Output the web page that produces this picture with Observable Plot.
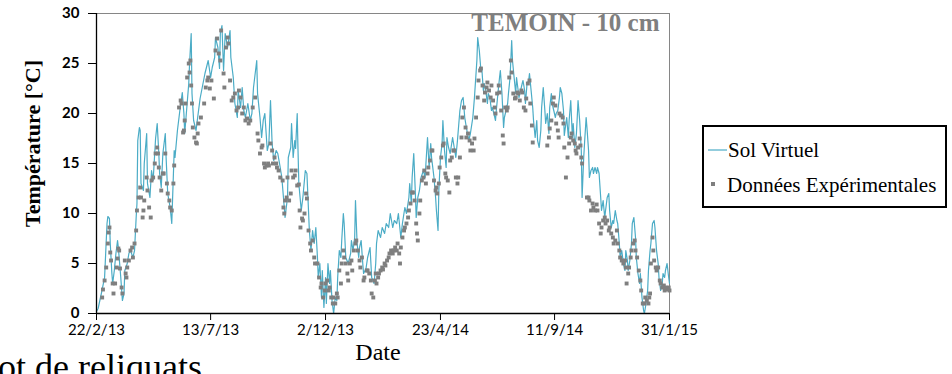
<!DOCTYPE html>
<html><head><meta charset="utf-8">
<script src="https://cdn.jsdelivr.net/npm/d3@7"></script>
<script src="https://cdn.jsdelivr.net/npm/@observablehq/plot@0.6"></script>
<style>
html,body{margin:0;padding:0;background:#fff;overflow:hidden;width:952px;height:374px;}
#wrap{position:relative;width:952px;height:374px;overflow:hidden;}
#chart svg{display:block;}
#overlay{position:absolute;left:0;top:0;}
#chart [aria-label="y-axis tick label"]{font-weight:bold;font-size:15px;font-family:Lato;}
#chart [aria-label="x-axis tick label"]{font-size:15px;font-family:Lato;}
</style></head>
<body><div id="wrap"><div id="chart"></div></div>
<script>
const startDate = "2013-02-22";
const xTickLabels = ["22/2/13","13/7/13","2/12/13","23/4/14","11/9/14","31/1/15"];
const yTicks = [0,5,10,15,20,25,30];
const seriesNames = ["Sol Virtuel","Données Expérimentales"];
const titleText = ["TEMOIN - 10 cm"];
const xLabel = ["Date"];
const yLabel = ["Température [°C]"];
const pageText = ["ot de reliquats"];

// [day since start, temperature °C]
const simulated = [[0,0.2],[2,0.5],[6,2.0],[10,3.6],[13,9.0],[14,9.7],[16,9.5],[17,7.0],[19,4.0],[20,3.0],[22,4.3],[24,6.0],[26,7.3],[27,6.6],[30,3.6],[32,1.3],[34,2.0],[35,4.3],[38,5.0],[40,6.0],[42,6.3],[45,5.6],[47,6.3],[49,9.6],[50,11.0],[51,17.3],[53,18.6],[54,18.3],[55,13.0],[58,12.3],[59,15.0],[62,18.0],[63,13.0],[66,11.6],[68,14.3],[70,13.3],[73,17.5],[75,19.0],[77,16.0],[78,14.0],[80,12.6],[82,16.0],[85,18.0],[86,15.6],[88,12.0],[91,10.6],[93,9.0],[96,16.3],[97,15.6],[100,18.3],[103,20.3],[106,22.1],[108,20.0],[109,18.0],[112,21.0],[114,23.0],[115,25.0],[117,28.0],[118,22.0],[120,19.3],[123,18.3],[125,19.6],[128,21.5],[134,24.0],[138,25.3],[141,23.6],[143,24.6],[146,25.6],[147,27.6],[150,26.6],[152,24.5],[153,28.0],[155,28.8],[157,24.3],[159,28.0],[162,26.6],[165,28.3],[166,25.6],[169,23.6],[171,21.0],[174,19.6],[175,22.3],[178,20.6],[180,22.6],[182,20.3],[184,19.6],[187,21.0],[190,19.3],[192,20.0],[194,22.6],[198,25.3],[199,22.0],[202,19.6],[204,17.6],[206,19.3],[208,20.0],[211,16.3],[213,17.0],[215,21.3],[217,17.0],[219,15.3],[222,16.3],[224,16.0],[227,14.6],[229,13.6],[231,11.6],[233,9.6],[236,11.6],[237,15.6],[240,16.6],[241,19.0],[243,15.6],[245,17.3],[246,16.5],[248,20.0],[249,16.3],[250,13.0],[253,10.3],[255,11.6],[258,14.3],[260,14.0],[263,8.3],[265,6.3],[267,8.3],[269,7.0],[271,8.6],[273,5.6],[274,3.6],[276,5.0],[278,1.6],[279,4.3],[281,0.6],[283,3.6],[284,1.0],[286,5.0],[288,3.0],[289,4.3],[291,1.3],[293,0.0],[295,1.6],[297,1.3],[298,3.6],[300,6.3],[302,5.6],[303,7.3],[305,10.0],[306,9.0],[308,5.6],[311,5.0],[314,6.0],[315,7.3],[317,6.3],[319,7.6],[320,11.3],[322,7.0],[324,5.6],[325,6.6],[327,7.3],[329,5.0],[330,4.0],[333,4.5],[335,5.6],[338,6.6],[340,3.6],[343,3.0],[345,5.0],[346,7.0],[348,8.3],[351,7.6],[353,8.6],[356,8.0],[358,9.0],[361,8.6],[363,10.0],[366,8.6],[368,9.3],[371,9.0],[373,10.0],[376,7.6],[378,9.0],[381,10.6],[383,10.0],[386,11.6],[387,13.0],[389,11.0],[390,13.6],[392,16.0],[394,12.0],[395,9.6],[397,11.6],[399,12.3],[401,13.6],[404,14.3],[406,13.6],[409,17.6],[411,14.6],[413,17.0],[414,15.6],[417,13.6],[419,11.6],[420,10.3],[422,8.3],[423,12.3],[425,15.6],[427,17.0],[428,19.3],[430,16.3],[432,14.6],[433,17.6],[435,16.6],[437,16.0],[440,17.6],[442,16.6],[444,15.6],[446,17.3],[449,20.3],[451,21.3],[453,21.6],[455,19.6],[457,18.6],[460,17.3],[462,18.0],[465,19.6],[467,21.6],[470,25.3],[471,27.6],[473,26.3],[475,24.3],[476,24.6],[478,22.3],[479,23.0],[481,22.3],[483,21.0],[484,22.0],[486,21.6],[488,20.3],[489,20.6],[491,20.0],[493,19.3],[494,20.3],[496,22.0],[498,23.6],[499,24.3],[501,22.0],[503,18.6],[504,19.6],[506,20.3],[508,21.0],[509,22.0],[511,23.6],[513,27.3],[514,25.3],[516,23.6],[518,22.0],[519,23.6],[521,22.3],[522,21.6],[524,22.3],[526,23.0],[527,23.3],[529,22.3],[530,21.0],[532,23.0],[534,23.3],[535,24.0],[537,22.3],[539,20.6],[540,19.3],[542,17.6],[544,19.3],[545,17.3],[547,16.6],[549,18.3],[550,20.6],[552,22.6],[554,20.3],[555,19.0],[557,20.0],[559,18.0],[560,20.6],[562,22.0],[563,21.0],[565,20.3],[567,19.6],[568,20.0],[570,20.3],[572,21.6],[573,22.6],[575,22.0],[577,20.3],[578,17.8],[581,19.6],[583,17.6],[584,19.3],[586,21.3],[588,17.6],[589,19.0],[591,16.6],[593,18.0],[594,19.6],[595,21.3],[597,19.3],[599,16.3],[600,11.6],[602,15.6],[603,17.0],[605,19.6],[606,18.6],[608,16.3],[609,13.6],[611,14.3],[613,14.6],[614,14.0],[616,14.6],[618,14.0],[619,14.6],[621,14.0],[623,11.6],[624,10.3],[626,11.3],[628,9.6],[629,10.3],[631,11.6],[633,12.0],[634,10.3],[636,8.6],[638,9.3],[639,9.0],[641,10.3],[643,9.3],[644,9.0],[646,7.0],[647,5.6],[649,6.3],[651,5.0],[653,4.3],[654,6.3],[656,5.3],[657,4.3],[659,5.3],[661,7.0],[662,9.0],[664,9.6],[666,7.6],[667,5.6],[669,4.0],[671,3.0],[672,4.0],[674,1.6],[676,0.3],[677,0.0],[679,1.0],[681,2.3],[682,4.3],[684,6.3],[685,7.0],[687,9.0],[689,9.3],[690,8.6],[692,6.3],[694,5.0],[695,3.6],[697,2.3],[699,3.0],[700,4.0],[702,3.6],[703,4.3],[705,5.0],[707,3.6],[708,3.0]];

const observed = [[7,1.6],[8,2.4],[10,3.3],[12,4.6],[14,7.0],[15,8.1],[16,8.6],[17,6.1],[18,5.3],[20,3.0],[21,2.0],[23,3.0],[25,4.6],[26,5.5],[27,6.5],[28,6.3],[29,4.5],[31,2.6],[32,2.0],[35,5.3],[36,4.0],[37,3.6],[38,4.6],[40,5.3],[42,6.3],[44,6.6],[45,5.6],[47,7.0],[49,8.3],[50,10.3],[52,11.6],[54,12.6],[55,11.6],[57,9.6],[58,10.3],[59,11.3],[62,13.6],[63,12.3],[65,10.6],[67,9.6],[68,13.3],[70,13.6],[72,15.0],[73,16.0],[75,16.6],[76,16.0],[77,14.6],[78,13.6],[80,12.3],[82,14.0],[83,14.0],[85,16.0],[87,13.0],[88,12.0],[90,11.3],[91,10.6],[93,10.3],[95,13.0],[96,14.8],[102,20.6],[104,21.3],[105,21.0],[107,18.1],[108,18.3],[109,19.3],[110,21.0],[112,23.6],[114,25.0],[115,24.1],[116,25.3],[117,22.8],[118,21.0],[119,18.6],[121,17.6],[123,17.1],[124,17.0],[125,18.0],[126,19.0],[129,19.6],[133,21.0],[135,22.6],[137,23.3],[138,23.6],[140,22.5],[142,23.3],[145,21.5],[147,26.3],[149,27.5],[151,26.0],[153,25.3],[154,28.3],[157,24.0],[158,22.6],[160,26.6],[162,27.6],[163,27.0],[165,23.3],[167,21.3],[169,21.6],[171,22.0],[173,20.3],[175,20.6],[176,22.3],[178,21.6],[180,20.0],[182,20.6],[184,19.3],[186,19.5],[188,19.0],[190,19.3],[193,20.6],[196,21.6],[199,18.0],[200,17.3],[202,16.0],[204,16.6],[205,16.8],[207,15.0],[208,14.6],[210,14.8],[212,15.0],[213,14.8],[215,17.0],[217,16.3],[218,15.0],[220,15.6],[222,15.0],[223,14.6],[225,14.3],[227,13.6],[230,13.3],[231,10.6],[232,10.0],[233,11.3],[235,11.6],[236,13.6],[238,11.3],[240,12.0],[241,14.3],[243,13.6],[245,13.8],[246,14.3],[248,12.8],[250,12.9],[251,10.3],[252,8.6],[254,9.5],[255,9.3],[257,10.0],[259,12.0],[260,11.5],[262,8.3],[264,7.0],[265,6.3],[267,7.3],[269,5.6],[270,5.0],[273,5.0],[275,3.6],[277,2.6],[278,3.0],[280,1.6],[282,2.3],[283,3.0],[285,3.3],[287,2.3],[288,2.6],[290,1.6],[292,1.0],[293,1.6],[295,1.0],[297,2.0],[298,1.6],[300,4.3],[302,3.0],[303,5.0],[305,6.3],[306,5.6],[308,5.0],[310,4.0],[311,3.3],[313,5.0],[315,5.3],[316,4.3],[318,6.3],[320,7.0],[321,7.3],[323,6.3],[325,5.3],[326,4.6],[328,5.6],[330,3.3],[331,3.6],[334,4.3],[335,4.3],[337,4.0],[339,3.3],[340,2.0],[342,1.6],[344,3.3],[345,4.0],[346,3.0],[348,3.6],[349,4.0],[351,4.3],[353,4.6],[354,4.4],[356,5.0],[357,4.8],[359,5.3],[361,5.6],[362,6.0],[364,6.3],[366,6.0],[367,6.3],[369,6.6],[371,6.3],[372,7.0],[374,6.0],[375,5.0],[376,6.6],[378,7.6],[380,8.3],[381,8.6],[383,9.0],[385,9.6],[386,10.3],[388,11.0],[390,12.1],[391,12.1],[393,11.3],[395,9.0],[396,8.0],[397,7.3],[399,10.0],[400,11.3],[402,13.3],[404,13.6],[405,14.3],[407,13.0],[409,14.0],[410,14.6],[412,15.3],[414,16.3],[415,16.3],[417,13.3],[419,12.3],[420,12.6],[421,12.0],[423,13.0],[424,14.6],[426,15.6],[428,16.8],[429,17.0],[431,14.0],[432,13.6],[434,13.3],[436,12.1],[437,15.3],[439,15.6],[441,16.3],[442,16.3],[444,13.6],[446,13.0],[447,13.6],[449,15.6],[451,17.6],[452,19.6],[454,20.6],[456,18.6],[457,17.6],[459,18.0],[461,17.3],[462,16.3],[464,17.0],[466,16.3],[467,17.5],[469,19.6],[471,21.6],[472,23.3],[474,24.3],[475,24.5],[477,22.8],[479,21.3],[480,22.1],[482,22.6],[483,23.1],[485,22.3],[487,21.6],[488,22.8],[490,21.3],[492,20.6],[493,20.0],[495,22.0],[497,22.8],[498,22.1],[500,20.3],[502,17.8],[503,17.0],[505,20.6],[507,20.3],[508,20.6],[510,23.6],[512,25.3],[513,24.1],[515,22.0],[517,21.5],[518,21.6],[520,22.1],[521,22.0],[523,21.3],[525,22.3],[526,22.1],[528,20.6],[530,20.3],[531,21.5],[533,23.0],[535,23.3],[536,21.0],[538,18.8],[539,17.1],[557,16.8],[559,17.6],[560,18.5],[562,19.3],[564,21.0],[565,21.6],[567,20.8],[568,19.0],[570,18.3],[571,17.6],[572,20.0],[574,19.8],[576,19.6],[577,19.0],[578,16.6],[580,13.6],[582,15.6],[584,17.0],[586,17.6],[587,18.0],[589,17.3],[591,17.0],[592,16.3],[593,16.0],[595,16.6],[597,17.5],[598,16.8],[599,15.6],[600,15.0],[606,11.6],[608,11.6],[609,11.3],[611,10.3],[613,11.0],[614,10.6],[616,10.3],[618,10.9],[619,10.3],[621,9.0],[623,8.0],[624,8.6],[626,9.3],[628,9.6],[629,9.0],[631,9.3],[633,8.3],[634,8.6],[636,8.0],[638,7.6],[639,7.0],[641,7.3],[643,8.3],[644,7.0],[646,6.3],[647,5.6],[649,5.3],[651,5.0],[653,5.3],[654,4.6],[655,3.0],[657,4.0],[658,4.6],[660,5.6],[661,6.3],[663,7.0],[665,7.3],[666,6.3],[668,5.6],[670,4.3],[672,3.3],[673,2.3],[675,1.0],[677,1.0],[678,1.6],[680,1.3],[682,1.0],[683,1.6],[684,2.0],[685,5.0],[687,7.6],[688,6.3],[689,5.3],[691,4.6],[692,4.3],[694,4.6],[696,3.3],[697,3.0],[699,2.6],[701,2.8],[702,2.3],[703,2.6],[705,2.4],[707,2.6],[708,2.3]];

const simColor = "#4bacc6", obsColor = "#7f7f7f";
const start = new Date(startDate + "T00:00:00Z");
const parseTick = s => { const [d, m, y] = s.split("/").map(Number); return new Date(Date.UTC(2000 + y, m - 1, d)); };
const tickDates = xTickLabels.map(parseTick);
const fmtTick = d => xTickLabels[tickDates.findIndex(t => +t === +d)];
const simData = simulated.map(([d, t]) => ({date: d3.utcDay.offset(start, d), temp: t}));
const obsData = observed.map(([d, t]) => ({date: d3.utcDay.offset(start, d), temp: t}));

const chart = Plot.plot({
  width: 952, height: 374,
  marginLeft: 96, marginRight: 283, marginTop: 13, marginBottom: 61,
  style: {background: "white", fontFamily: "Lato"},
  x: {type: "utc", domain: [tickDates[0], tickDates[tickDates.length - 1]]},
  y: {domain: [0, 30]},
  marks: [
    Plot.frame({stroke: "#868686", strokeWidth: 1}),
    Plot.line(simData, {x: "date", y: "temp", stroke: simColor, strokeWidth: 1.2}),
    Plot.dot(obsData, {x: "date", y: "temp", symbol: "square", r: 2.2, fill: obsColor, stroke: "none"}),
    Plot.ruleX([tickDates[0]], {stroke: "black", strokeWidth: 1.3}),
    Plot.ruleY([0], {stroke: "black", strokeWidth: 1.3}),
    Plot.axisY({ticks: yTicks, tickSize: 8, tickPadding: 9, label: null, tickFormat: d => String(d)}),
    Plot.axisX({ticks: tickDates, tickFormat: fmtTick, tickSize: 7, tickPadding: 4, label: null}),
    Plot.text(titleText, {text: d => d, frameAnchor: "top-right", dx: -10, dy: 0, lineAnchor: "top", textAnchor: "end", fill: "#7f7f7f", fontWeight: "bold", fontSize: 25, fontFamily: "Liberation Serif"}),
    Plot.text(yLabel, {text: d => d, frameAnchor: "left", dx: -64, dy: -20, rotate: -90, textAnchor: "middle", lineAnchor: "middle", fontWeight: "bold", fontSize: 22, fontFamily: "Liberation Serif", fill: "black"}),
    Plot.text(xLabel, {text: d => d, frameAnchor: "bottom", dx: -5, dy: 46, textAnchor: "middle", fontSize: 24, fontFamily: "Liberation Serif", fill: "black"})
  ]
});
document.getElementById("chart").appendChild(chart);

// legend and page text overlay
const ov = d3.select("#wrap").append("svg").attr("id", "overlay").attr("width", 952).attr("height", 374);
ov.append("rect").attr("x", 703).attr("y", 126).attr("width", 243).attr("height", 81)
  .attr("fill", "white").attr("stroke", "black").attr("stroke-width", 2);
ov.append("line").attr("x1", 708).attr("x2", 727).attr("y1", 150).attr("y2", 150)
  .attr("stroke", simColor).attr("stroke-width", 1.2);
ov.append("rect").attr("x", 711).attr("y", 182).attr("width", 4).attr("height", 4).attr("fill", obsColor);
ov.selectAll("text.leg").data(seriesNames).join("text").attr("class", "leg")
  .attr("x", (d, i) => i === 0 ? 728 : 727).attr("y", (d, i) => i === 0 ? 157 : 192)
  .attr("font-family", "Liberation Serif").attr("font-size", 21).attr("fill", "black").text(d => d);
ov.selectAll("text.page").data(pageText).join("text").attr("class", "page")
  .attr("x", -2).attr("y", 379).attr("font-family", "Liberation Serif").attr("font-size", 36)
  .attr("fill", "black").text(d => d);
</script>
</body></html>
